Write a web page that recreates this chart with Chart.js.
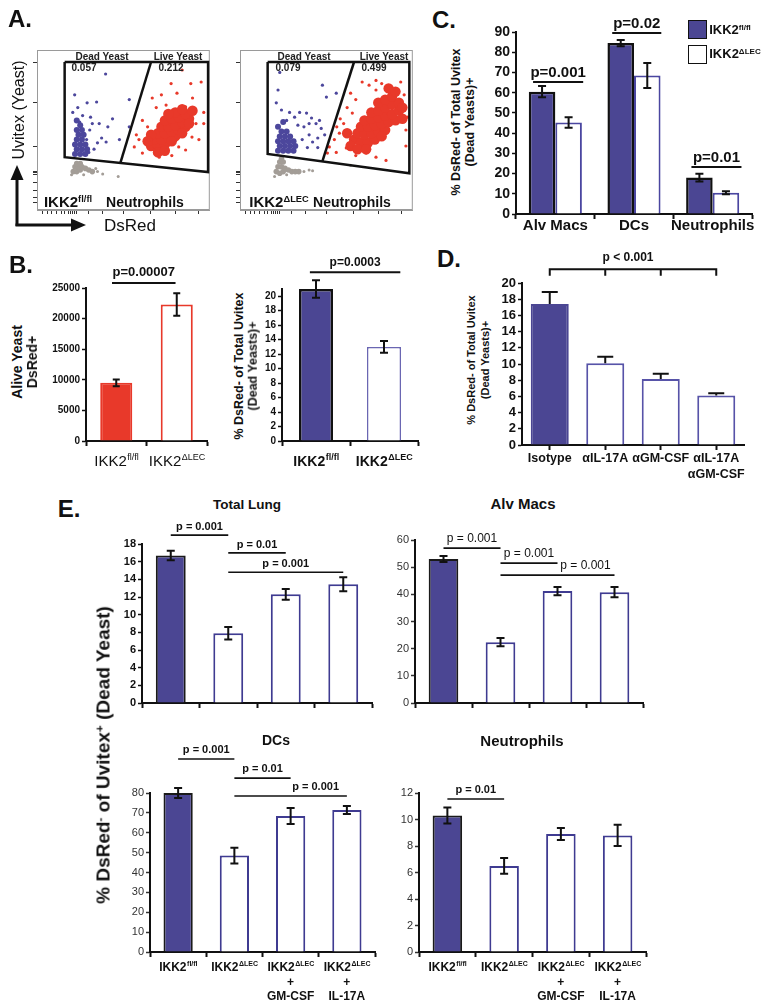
<!DOCTYPE html>
<html>
<head>
<meta charset="utf-8">
<script src="https://cdn.jsdelivr.net/npm/chart.js@4.4.0/dist/chart.umd.min.js"></script>
<style>
  body { margin: 0; width: 768px; height: 1007px; position: relative; overflow: hidden; background: #fff;
         font-family: "Liberation Sans", Arial, Helvetica, sans-serif; color: #111; }
  canvas { position: absolute; }
  .t { position: absolute; white-space: nowrap; line-height: 1; }
  .s { font-size: .62em; position: relative; top: -.55em; }
  .box { position: absolute; box-sizing: border-box; }
</style>
</head>
<body>
<canvas id="a1"></canvas>
<canvas id="a2"></canvas>
<canvas id="b1"></canvas>
<canvas id="b2"></canvas>
<canvas id="c1"></canvas>
<canvas id="d1"></canvas>
<canvas id="e1"></canvas>
<canvas id="e2"></canvas>
<canvas id="e3"></canvas>
<canvas id="e4"></canvas>
<svg width="100" height="240" style="position:absolute;left:0;top:0">
  <line x1="17" y1="226" x2="17" y2="178" stroke="#111" stroke-width="3"/>
  <polygon points="17,165 10.5,180 23.5,180" fill="#111"/>
  <line x1="15.5" y1="225" x2="72" y2="225" stroke="#111" stroke-width="3"/>
  <polygon points="86,225 71,218.5 71,231.5" fill="#111"/>
</svg>
<script>
// ---- panel A: flow plots (axis units 0-100 on both axes) ----
const a1Gate = [[16, 92.5], [99, 92.5], [99, 23.75], [16, 33], [16, 92.5]];
const a1Split = [[66, 92.5], [48.3, 29.6]];
const a1DeadCore = [[22, 35], [25, 35], [28, 35], [23, 38], [26, 38], [29, 38], [22, 41], [25, 41], [28, 41],
  [23, 44], [26, 44], [24, 47], [27, 47], [23, 50], [26, 50], [25, 53], [23, 56]];
const a1DeadDots = [[39.7, 85], [21.8, 72], [29, 67], [34.5, 67.5], [43.7, 57], [41, 52], [53.4, 69], [53.4, 52],
  [47.7, 44], [37.4, 45], [31, 58], [32, 54], [26.4, 59], [24.7, 55], [35, 42], [28.7, 44], [20.7, 61], [23.6, 64],
  [40, 42.5], [30.5, 50], [36, 54], [33, 38], [30, 36]];
const a1LiveCore = [[66, 40], [70, 40], [74, 41], [68, 44], [72, 44], [76, 45], [80, 46], [70, 48], [74, 48], [78, 49],
  [82, 50], [86, 52], [72, 52], [76, 52], [80, 53], [84, 55], [88, 57], [74, 56], [78, 57], [82, 58], [86, 60], [90, 62],
  [80, 61], [84, 63], [70, 36], [74, 37], [78, 43], [84, 48], [88, 54], [76, 60], [66, 47], [64, 43]];
const a1LiveDots = [[84, 87.5], [77.6, 79], [89, 79], [95, 80], [66.7, 70], [72, 72], [90, 70], [96.5, 61], [61, 56],
  [57.5, 47], [56.3, 39.4], [61, 35.6], [70.7, 33], [78, 34], [86, 37.5], [93.7, 44], [96.5, 54], [66, 44], [64, 52],
  [86, 64.4], [81, 73], [69, 64], [74.7, 65.6], [92, 54], [89.7, 45.6], [82, 39.4], [74.7, 37.5], [67.8, 37.5], [59, 44]];
const a1GrayCore = [[21, 24], [23, 24], [25, 25], [22, 27], [24, 27], [26, 27], [28, 26], [30, 25], [23, 29], [25, 29], [32, 24]];
const a1GrayDots = [[35, 24], [38, 22.5], [34, 26], [47, 21], [20, 22], [27, 22]];

const a2Gate = [[16, 92.5], [98, 92.5], [98, 23], [16, 35], [16, 92.5]];
const a2Split = [[66, 92.5], [47.7, 30.5]];
const a2DeadCore = [[22, 37], [25, 37], [28, 37], [31, 37], [23, 40], [26, 40], [29, 40], [32, 40], [22, 43], [25, 43],
  [28, 43], [31, 43], [23, 46], [26, 46], [29, 46], [24, 49], [27, 49], [22, 52], [25, 55]];
const a2DeadDots = [[23, 86], [22, 75], [47.7, 78], [50, 70.6], [55.7, 73], [21, 67], [24, 62.5], [28.7, 61], [34.5, 61],
  [38.5, 60.6], [41.4, 57.5], [44, 54], [47, 51], [49, 47], [45, 45], [40, 47], [42, 42.5], [36, 44], [33.5, 53], [37, 52],
  [39, 39], [45, 39], [31.6, 58], [27, 56], [40, 54], [46, 56]];
const a2LiveCore = [[66, 44], [70, 42], [74, 42], [78, 44], [68, 48], [72, 47], [76, 48], [80, 49], [84, 50], [70, 52],
  [74, 52], [78, 53], [82, 54], [86, 55], [90, 56], [72, 56], [76, 57], [80, 58], [84, 59], [88, 60], [92, 62], [76, 61],
  [80, 62], [84, 64], [88, 66], [92, 67], [80, 67], [84, 69], [88, 71], [64, 40], [68, 38], [73, 38], [82, 46], [94, 57],
  [86, 76], [90, 74], [94, 64], [62, 48]];
const a2LiveDots = [[70.7, 80], [74.7, 78], [78.7, 81], [82, 79], [67, 69], [65, 60.6], [60, 54], [57.5, 48], [54.6, 44],
  [51.7, 39.4], [50.6, 35.6], [55.7, 36], [61.5, 38.8], [67, 34], [73, 35.6], [78.7, 33], [84.5, 31], [62, 64], [64, 73],
  [78.7, 75], [96, 40], [96, 50], [95, 72], [93, 80], [97, 58], [58, 57], [56, 52]];
const a2GrayCore = [[21, 24], [23, 23], [25, 24], [22, 27], [24, 27], [26, 26], [28, 25], [30, 24], [23, 30], [25, 30],
  [24, 32], [32, 24], [34, 24]];
const a2GrayDots = [[37, 24], [40, 25], [42, 24.5], [64, 28], [27, 22], [20, 21]];

const aTicksY = [92, 67, 40, 24, 23.2, 22.4, 17, 12, 8, 5];
const aTicksX = [3, 6, 8.6, 11, 14, 16, 18, 19.5, 20.8, 21.8, 23, 30, 38, 50, 65.5, 80, 93.7];

// ---- panel B ----
const bCats = ['IKK2^fl/fl', 'IKK2^\u0394LEC'];
const bAlive = [9500, 22300];
const bAliveErr = [550, 1850];
const bDead = [21, 13];
const bDeadErr = [1.2, 0.8];

// ---- panel C ----
const cCats = ['Alv Macs', 'DCs', 'Neutrophils'];
const cFlox = [60.5, 84.5, 18];
const cFloxErr = [2.8, 1.5, 1.9];
const cLec = [45.3, 68.5, 10.5];
const cLecErr = [2.6, 6.2, 0.7];

// ---- panel D ----
const dCats = [['Isotype'], ['\u03B1IL-17A'], ['\u03B1GM-CSF'], ['\u03B1IL-17A', '\u03B1GM-CSF']];
const dVals = [17.4, 10.1, 8.15, 6.1];
const dErr = [1.5, 0.8, 0.65, 0.3];

// ---- panel E ----
const eCats = [['IKK2^fl/fl'], ['IKK2^\u0394LEC'], ['IKK2^\u0394LEC', '+', 'GM-CSF'], ['IKK2^\u0394LEC', '+', 'IL-17A']];
const eLung = [16.7, 7.9, 12.3, 13.45];
const eLungErr = [0.55, 0.7, 0.6, 0.8];
const eAlv = [53, 22.4, 41.2, 40.8];
const eAlvErr = [1.1, 1.5, 1.5, 1.9];
const eDc = [80, 48.5, 68.4, 71.4];
const eDcErr = [2.5, 4, 4, 2];
const eNeu = [10.3, 6.5, 8.9, 8.8];
const eNeuErr = [0.6, 0.6, 0.45, 0.8];

// p-value lines: [from index, to index, y value, text, text dx, drops]
const bAliveP = [[-0.07, 0.98, 25800, 'p=0.00007']];
const bDeadP = [[-0.09, 1.24, 23.3, 'p=0.0003']];
const cP = [[-0.283, 0.354, 65.3, 'p=0.001'], [0.723, 1.347, 89.5, 'p=0.02'], [1.73, 2.366, 23.2, 'p=0.01']];
const dP = [[0, 3, 21.7, 'p < 0.001', -5, [[0, 1, 2, 3], 20.9]]];
const eLungP = [[0, 1, 19.0, 'p = 0.001'], [1, 2, 17.0, 'p = 0.01'], [1, 3, 14.8, 'p = 0.001']];
const eAlvP = [[0, 1, 57, 'p = 0.001'], [1, 2, 51.5, 'p = 0.001'], [1, 3, 47.1, 'p = 0.001', 28]];
const eDcP = [[0, 1, 97.1, 'p = 0.001'], [1, 2, 87.5, 'p = 0.01'], [1, 3, 78.5, 'p = 0.001', 25]];
const eNeuP = [[0, 1, 11.55, 'p = 0.01']];

const FONT = '"Liberation Sans", Arial, Helvetica, sans-serif';
const NAVY = '#4b4693';
const NAVY_LINE = '#3f3b91';
const RED = '#e8392a';
const GRAY = '#a39d97';
const DOT_BLUE = '#4c479c';

Chart.defaults.font.family = FONT;
Chart.defaults.color = '#111';

const EXTRA = {};

function drawRich(ctx, s, x, y, size, weight) {
  const k = s.indexOf('^');
  const main = k < 0 ? s : s.slice(0, k);
  const sup = k < 0 ? '' : s.slice(k + 1);
  const ss = Math.round(size * 0.62);
  ctx.font = `${weight} ${size}px ${FONT}`;
  const w1 = ctx.measureText(main).width;
  ctx.font = `${weight} ${ss}px ${FONT}`;
  const w2 = sup ? ctx.measureText(sup).width : 0;
  const x0 = x - (w1 + w2) / 2;
  ctx.textAlign = 'left';
  ctx.textBaseline = 'middle';
  ctx.font = `${weight} ${size}px ${FONT}`;
  ctx.fillText(main, x0, y);
  if (sup) {
    ctx.font = `${weight} ${ss}px ${FONT}`;
    ctx.fillText(sup, x0 + w1 + 0.5, y - size * 0.33);
  }
}

const extras = {
  id: 'extras',
  beforeDatasetsDraw(chart) {
    const ex = EXTRA[chart.canvas.id];
    if (!ex || !ex.frame) return;
    const a = chart.chartArea, ctx = chart.ctx;
    ctx.save();
    ctx.strokeStyle = ex.frame;
    ctx.lineWidth = 1;
    ctx.strokeRect(a.left + 0.5, a.top + 0.5, a.right - a.left - 1, a.bottom - a.top - 1);
    ctx.restore();
  },
  afterDatasetsDraw(chart) {
    const ex = EXTRA[chart.canvas.id];
    if (!ex || !ex.cap) return;
    const ctx = chart.ctx, ys = chart.scales.y;
    ctx.save();
    ctx.strokeStyle = '#111';
    ctx.lineWidth = 2;
    chart.data.datasets.forEach((ds, di) => {
      if (!ds.errors) return;
      chart.getDatasetMeta(di).data.forEach((bar, i) => {
        const v = ds.data[i], e = ds.errors[i];
        const top = ys.getPixelForValue(v + e);
        const bot = ys.getPixelForValue(ex.upperOnly ? v : v - e);
        const cw = ex.cap / 2;
        ctx.beginPath();
        ctx.moveTo(bar.x, top); ctx.lineTo(bar.x, bot);
        ctx.moveTo(bar.x - cw, top); ctx.lineTo(bar.x + cw, top);
        if (!ex.upperOnly) { ctx.moveTo(bar.x - cw, bot); ctx.lineTo(bar.x + cw, bot); }
        ctx.stroke();
      });
    });
    ctx.restore();
  },
  afterDraw(chart) {
    const ex = EXTRA[chart.canvas.id];
    if (!ex) return;
    const ctx = chart.ctx, xs = chart.scales.x, ys = chart.scales.y;
    ctx.save();
    ctx.fillStyle = '#111';
    (ex.pvals || []).forEach(p => {
      const x1 = xs.getPixelForValue(p[0]), x2 = xs.getPixelForValue(p[1]);
      const y = ys.getPixelForValue(p[2]);
      ctx.strokeStyle = '#111';
      ctx.lineWidth = ex.pw || 2;
      ctx.beginPath();
      ctx.moveTo(x1, y); ctx.lineTo(x2, y);
      if (p[5]) {
        const yd = ys.getPixelForValue(p[5][1]);
        p[5][0].forEach(i => { const x = xs.getPixelForValue(i); ctx.moveTo(x, y - 1); ctx.lineTo(x, yd); });
      }
      ctx.stroke();
      ctx.font = ex.pfont;
      ctx.textAlign = 'center';
      ctx.textBaseline = 'middle';
      ctx.fillText(p[3], (x1 + x2) / 2 + (p[4] || 0), y - ex.pgap);
    });
    if (ex.xl) {
      ex.xl.labels.forEach((lab, i) => {
        const x = xs.getPixelForTick(i);
        const lines = Array.isArray(lab) ? lab : [lab];
        lines.forEach((ln, j) => {
          drawRich(ctx, ln, x, chart.chartArea.bottom + ex.xl.dy + j * ex.xl.lh, ex.xl.size, ex.xl.weight);
        });
      });
    }
    ctx.restore();
  }
};

function place(id, area, pad) {
  const cv = document.getElementById(id);
  const W = area.r - area.l + pad.l + pad.r, H = area.b - area.t + pad.t + pad.b;
  cv.width = W; cv.height = H;
  cv.style.width = W + 'px'; cv.style.height = H + 'px';
  cv.style.left = (area.l - pad.l) + 'px';
  cv.style.top = (area.t - pad.t) + 'px';
  return cv;
}

function barChart(id, area, pad, o) {
  const cv = place(id, area, pad);
  EXTRA[id] = o.extra;
  return new Chart(cv, {
    type: 'bar',
    data: { labels: o.labels, datasets: o.datasets },
    options: {
      responsive: false,
      devicePixelRatio: 1,
      animation: false,
      layout: { padding: { top: pad.t, right: pad.r, left: 0, bottom: 0 } },
      plugins: { legend: { display: false }, tooltip: { enabled: false } },
      scales: {
        x: {
          offset: true,
          grid: { drawOnChartArea: false, offset: !o.tickMid, tickLength: 5, tickWidth: 2, tickColor: '#111' },
          border: { display: true, color: '#111', width: 2 },
          ticks: { callback: () => '', autoSkip: false, maxRotation: 0, padding: 0, font: { size: 6 } },
          afterFit: s => { s.height = pad.b; }
        },
        y: {
          min: 0, max: o.max,
          grid: { drawOnChartArea: false, tickLength: 4, tickWidth: 1.5, tickColor: o.tickColor || '#111' },
          border: { display: true, color: '#111', width: 2 },
          ticks: { stepSize: o.step, includeBounds: false, autoSkip: false, padding: 2, color: o.tickColor || '#111',
                   font: o.tickFont, callback: v => String(v) },
          afterFit: s => { s.width = pad.l; }
        }
      }
    },
    plugins: [extras]
  });
}

function pts(arr) { return arr.map(p => ({ x: p[0], y: p[1] })); }

function flowPlot(id, area, d) {
  const cv = place(id, area, { l: 8, t: 10, r: 4, b: 10 });
  EXTRA[id] = { frame: '#9a9a9a' };
  const line = data => ({ data: pts(data), showLine: true, borderColor: '#111', borderWidth: 2.5, pointRadius: 0, fill: false });
  const dots = (data, color, r) => ({ data: pts(data), backgroundColor: color, borderWidth: 0, pointRadius: r });
  const tickAxis = (vals, pos) => ({
    type: 'linear', position: pos, min: 0, max: 100,
    grid: { drawOnChartArea: false, tickLength: 4, tickWidth: 1, tickColor: '#333' },
    border: { display: true, color: '#9a9a9a', width: 1 },
    ticks: { callback: () => '', font: { size: 4 }, padding: 0, autoSkip: false },
    afterBuildTicks: s => { s.ticks = vals.map(v => ({ value: v })); },
    afterFit: s => { if (pos === 'left') s.width = 8; else s.height = 10; }
  });
  return new Chart(cv, {
    type: 'scatter',
    data: {
      datasets: [
        line(d.gate), line(d.split),
        dots(d.liveDots, RED, 1.6), dots(d.liveCore, RED, 5.2),
        dots(d.deadDots, DOT_BLUE, 1.6), dots(d.deadCore, DOT_BLUE, 3),
        dots(d.grayDots, GRAY, 1.5), dots(d.grayCore, GRAY, 2.8)
      ]
    },
    options: {
      responsive: false, devicePixelRatio: 1, animation: false,
      layout: { padding: { top: 10, right: 4, left: 0, bottom: 0 } },
      plugins: { legend: { display: false }, tooltip: { enabled: false } },
      scales: { x: tickAxis(aTicksX, 'bottom'), y: tickAxis(aTicksY, 'left') }
    },
    plugins: [extras]
  });
}

flowPlot('a1', { l: 37, t: 50, r: 211, b: 210 }, {
  gate: a1Gate, split: a1Split, deadCore: a1DeadCore, deadDots: a1DeadDots,
  liveCore: a1LiveCore, liveDots: a1LiveDots, grayCore: a1GrayCore, grayDots: a1GrayDots
});
flowPlot('a2', { l: 240, t: 50, r: 414, b: 210 }, {
  gate: a2Gate, split: a2Split, deadCore: a2DeadCore, deadDots: a2DeadDots,
  liveCore: a2LiveCore, liveDots: a2LiveDots, grayCore: a2GrayCore, grayDots: a2GrayDots
});

// B
barChart('b1', { l: 86, t: 288, r: 207, b: 441 }, { l: 48, t: 40, r: 8, b: 50 }, {
  labels: bCats, max: 25000, step: 5000, tickFont: { size: 10, weight: 'bold' },
  datasets: [{ data: bAlive, errors: bAliveErr, backgroundColor: [RED, '#fff'], borderColor: [RED, RED],
    borderWidth: 2, barPercentage: 0.53, categoryPercentage: 1 }],
  extra: { cap: 7, pvals: bAliveP, pfont: `bold 13px ${FONT}`, pgap: 11,
    xl: { labels: bCats, dy: 21, lh: 15, size: 15, weight: 'normal' } }
});
barChart('b2', { l: 282, t: 289, r: 418, b: 441 }, { l: 24, t: 40, r: 12, b: 40 }, {
  labels: bCats, max: 21, step: 2, tickFont: { size: 10, weight: 'bold' },
  datasets: [{ data: bDead, errors: bDeadErr, backgroundColor: [NAVY, '#fff'], borderColor: ['#111', '#6a66b2'],
    borderWidth: [2.5, 1.5], barPercentage: 0.5, categoryPercentage: 1 }],
  extra: { cap: 8, pvals: bDeadP, pfont: `bold 12px ${FONT}`, pgap: 10,
    xl: { labels: bCats, dy: 21, lh: 15, size: 14, weight: 'bold' } }
});

// C
barChart('c1', { l: 516, t: 32, r: 752, b: 214 }, { l: 34, t: 30, r: 14, b: 24 }, {
  labels: cCats, max: 90, step: 10, tickFont: { size: 14, weight: 'bold' },
  datasets: [
    { data: cFlox, errors: cFloxErr, backgroundColor: NAVY, borderColor: '#111', borderWidth: 2.5,
      barPercentage: 1, categoryPercentage: 0.675 },
    { data: cLec, errors: cLecErr, backgroundColor: '#fff', borderColor: '#4a46a0', borderWidth: 2,
      barPercentage: 1, categoryPercentage: 0.675 }
  ],
  extra: { cap: 8, pvals: cP, pfont: `bold 15px ${FONT}`, pgap: 9, pw: 2,
    xl: { labels: cCats, dy: 12, lh: 15, size: 15, weight: 'bold' } }
});

// D
barChart('d1', { l: 522, t: 283, r: 744, b: 445 }, { l: 28, t: 36, r: 10, b: 40 }, {
  labels: dCats, max: 20, step: 2, tickMid: true, tickFont: { size: 13, weight: 'bold' },
  datasets: [{ data: dVals, errors: dErr, backgroundColor: [NAVY, '#fff', '#fff', '#fff'],
    borderColor: [NAVY, '#5753a8', '#5753a8', '#5753a8'], borderWidth: 2, barPercentage: 0.685, categoryPercentage: 1 }],
  extra: { cap: 16, upperOnly: true, pvals: dP, pfont: `bold 12px ${FONT}`, pgap: 12, pw: 2,
    xl: { labels: dCats, dy: 14, lh: 16, size: 12.5, weight: 'bold' } }
});

// E
const eSet = (vals, errs) => [{ data: vals, errors: errs, backgroundColor: [NAVY, '#fff', '#fff', '#fff'],
  borderColor: ['#1a1a1a', NAVY_LINE, NAVY_LINE, NAVY_LINE], borderWidth: 2, barPercentage: 0.52, categoryPercentage: 1 }];

barChart('e1', { l: 142, t: 544, r: 372, b: 703 }, { l: 30, t: 30, r: 10, b: 20 }, {
  labels: eCats, max: 18, step: 2, tickFont: { size: 11, weight: 'bold' },
  datasets: eSet(eLung, eLungErr),
  extra: { cap: 8, pvals: eLungP, pfont: `bold 11px ${FONT}`, pgap: 8, pw: 1.6 }
});
barChart('e2', { l: 415, t: 540, r: 643, b: 703 }, { l: 30, t: 20, r: 10, b: 20 }, {
  labels: eCats, max: 60, step: 10, tickColor: '#333', tickFont: { size: 11 },
  datasets: eSet(eAlv, eAlvErr),
  extra: { cap: 8, pvals: eAlvP, pfont: `12px ${FONT}`, pgap: 9, pw: 1.8 }
});
barChart('e3', { l: 150, t: 793, r: 375, b: 952 }, { l: 30, t: 52, r: 10, b: 55 }, {
  labels: eCats, max: 80, step: 10, tickColor: '#333', tickFont: { size: 11 },
  datasets: eSet(eDc, eDcErr),
  extra: { cap: 8, pvals: eDcP, pfont: `bold 11px ${FONT}`, pgap: 9, pw: 1.6,
    xl: { labels: eCats, dy: 16, lh: 14.5, size: 12, weight: 'bold' } }
});
barChart('e4', { l: 419, t: 793, r: 646, b: 952 }, { l: 30, t: 20, r: 10, b: 55 }, {
  labels: eCats, max: 12, step: 2, tickColor: '#333', tickFont: { size: 11 },
  datasets: eSet(eNeu, eNeuErr),
  extra: { cap: 8, pvals: eNeuP, pfont: `bold 11px ${FONT}`, pgap: 9, pw: 1.6,
    xl: { labels: eCats, dy: 16, lh: 14.5, size: 12, weight: 'bold' } }
});

// ---- text ----
function T(x, y, html, css, rot) {
  const d = document.createElement('div');
  d.className = 't';
  d.innerHTML = html;
  d.style.cssText = `left:${x}px;top:${y}px;${css || ''}`;
  d.style.transform = 'translate(-50%,-50%)' + (rot ? ' rotate(-90deg)' : '');
  document.body.appendChild(d);
}
function box(l, t, w, h, css) {
  const d = document.createElement('div');
  d.className = 'box';
  d.style.cssText = `left:${l}px;top:${t}px;width:${w}px;height:${h}px;${css}`;
  document.body.appendChild(d);
}

const big = 'font-size:24px;font-weight:bold;';
T(20, 19, 'A.', big); T(21, 265, 'B.', big); T(444, 20, 'C.', big); T(449, 259, 'D.', big); T(69, 509, 'E.', big);

// A
const g = 'font-size:10px;font-weight:bold;color:#222;';
T(102, 57, 'Dead Yeast', g); T(178, 57, 'Live Yeast', g);
T(84, 68, '0.057', g); T(171, 68, '0.212', g);
T(304, 57, 'Dead Yeast', g); T(384, 57, 'Live Yeast', g);
T(288, 68, '0.079', g); T(374, 68, '0.499', g);
T(68, 202, 'IKK2<span class="s">fl/fl</span>', 'font-size:15px;font-weight:bold;');
T(145, 202, 'Neutrophils', 'font-size:14px;font-weight:bold;');
T(279, 202, 'IKK2<span class="s">\u0394LEC</span>', 'font-size:15px;font-weight:bold;');
T(352, 202, 'Neutrophils', 'font-size:14px;font-weight:bold;');
T(19, 110, 'Uvitex (Yeast)', 'font-size:16px;', true);
T(130, 225, 'DsRed', 'font-size:17px;');

// B
T(17, 362, 'Alive Yeast', 'font-size:14px;font-weight:bold;', true);
T(32, 362, 'DsRed+', 'font-size:14px;font-weight:bold;', true);
T(239, 366, '% DsRed- of Total Uvitex', 'font-size:12.5px;font-weight:bold;', true);
T(253, 366, '(Dead Yeasts)+', 'font-size:12.5px;font-weight:bold;', true);

// C
T(456, 122, '% DsRed- of Total Uvitex', 'font-size:12.5px;font-weight:bold;', true);
T(470, 122, '(Dead Yeasts)+', 'font-size:12.5px;font-weight:bold;', true);
box(688, 20, 19, 19, `background:${NAVY};border:1px solid #111;`);
box(688, 45, 19, 19, 'background:#fff;border:1.5px solid #111;');
T(730, 30, 'IKK2<span class="s">fl/fl</span>', 'font-size:13px;font-weight:bold;');
T(735, 54, 'IKK2<span class="s">\u0394LEC</span>', 'font-size:13px;font-weight:bold;');

// D
T(471, 360, '% DsRed- of Total Uvitex', 'font-size:11px;font-weight:bold;', true);
T(485, 360, '(Dead Yeasts)+', 'font-size:11px;font-weight:bold;', true);

// E
T(247, 505, 'Total Lung', 'font-size:13.5px;font-weight:bold;');
T(523, 503, 'Alv Macs', 'font-size:15px;font-weight:bold;');
T(276, 740, 'DCs', 'font-size:14px;font-weight:bold;');
T(522, 740, 'Neutrophils', 'font-size:15px;font-weight:bold;');
T(103, 755, '% DsRed<span class="s">-</span> of Uvitex<span class="s">+</span> (Dead Yeast)', 'font-size:19px;font-weight:bold;', true);
</script>
</body>
</html>
